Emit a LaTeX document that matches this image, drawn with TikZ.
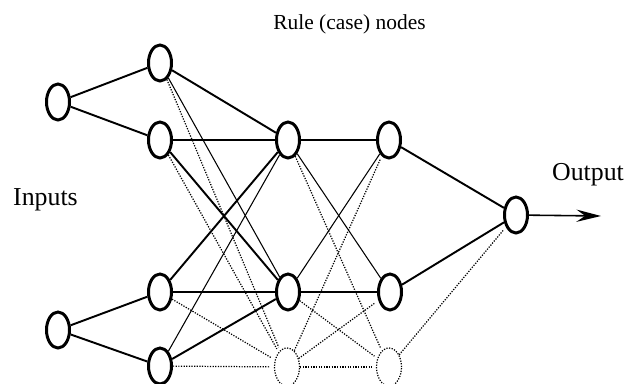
\documentclass[tikz,border=0pt]{standalone}
\usepackage{fontspec}
\setmainfont{Liberation Serif}
\usetikzlibrary{shapes.geometric, arrows.meta}

\begin{document}
\begin{tikzpicture}[x=0.02cm, y=-0.02cm,
    unit/.style={ellipse, draw, line width=1.7pt, inner sep=0pt,
      minimum width=0.46cm, minimum height=0.72cm},
    ghost/.style={ellipse, draw, line width=0.7pt, dash pattern=on 0.7pt off 0.8pt,
      inner sep=0pt, minimum width=0.5cm, minimum height=0.76cm},
    strong/.style={line width=1.1pt},
    weak/.style={line width=0.6pt},
    faint/.style={line width=0.7pt, dash pattern=on 0.7pt off 0.8pt}]
  % page frame, the lowest row runs off the bottom edge
  \useasboundingbox (0,0) rectangle (625,383);
  \clip (0,0) rectangle (625,383);

  % Inputs and membership layer
  \node[unit] (I1) at (58,102) {};
  \node[unit] (I2) at (58,330) {};
  \node[unit] (A1) at (160,63) {};
  \node[unit] (A2) at (160,140) {};
  \node[unit] (B1) at (160,292) {};
  \node[unit] (B2) at (160,366) {};

  % Rule layer and normalisation layer
  \node[unit] (R1) at (288,140) {};
  \node[unit] (R2) at (288,292) {};
  \node[ghost] (R3) at (287,367) {};
  \node[unit] (N1) at (389,140) {};
  \node[unit] (N2) at (390,292) {};
  \node[ghost] (N3) at (389,367) {};

  % Output
  \node[unit] (O) at (516,215) {};
  \coordinate (Oend) at (601,216);

  % Labels
  \node[font=\fontsize{12.2}{14}\selectfont, anchor=base] (lblrule) at (349.5,29) {Rule (case) nodes};
  \node[font=\fontsize{14.7}{17}\selectfont, anchor=base] (lblin) at (45.5,205) {Inputs};
  \node[font=\fontsize{14.7}{17}\selectfont, anchor=base] (lblout) at (588,180) {Output};

  % Links
  \foreach \a/\b in {I1/A1, I1/A2, I2/B1, I2/B2, A1/R1, A2/R2, B1/R1, B2/R2,
                     R1/N1, R2/N2, N1/O, N2/O}
    \draw[strong] (\a) -- (\b);
  \foreach \a/\b in {A1/R2, A2/R1, B1/R2, B2/R1, R1/N2, R2/N1}
    \draw[weak] (\a) -- (\b);
  \foreach \a/\b in {A1/R3, A2/R3, B1/R3, B2/R3, R1/N3, R2/N3, R3/N1, R3/N2, R3/N3, N3/O}
    \draw[faint, shorten >=2pt] (\a) -- (\b);

  \draw[line width=0.9pt, -{Stealth[length=14pt, width=7pt, inset=5pt]}] (O) -- (Oend);
\end{tikzpicture}
\end{document}
